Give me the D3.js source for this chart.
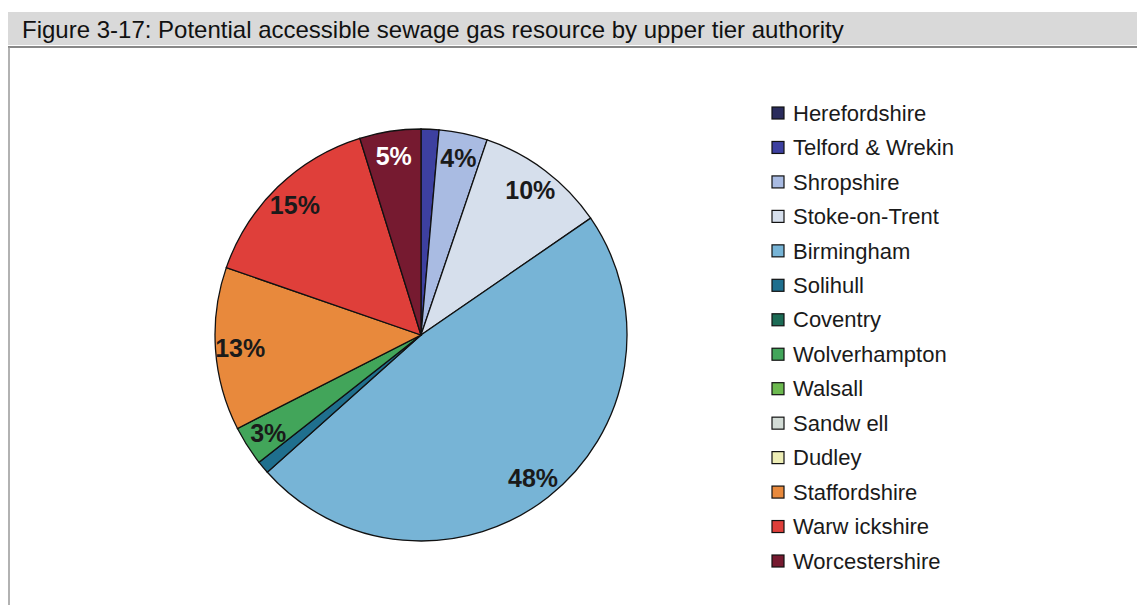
<!DOCTYPE html>
<html>
<head>
<meta charset="utf-8">
<script src="https://cdn.jsdelivr.net/npm/d3@7"></script>
<style>
  body { margin: 0; background: #fff; }
  svg { display: block; font-family: Arial, "Liberation Sans", sans-serif; }
</style>
</head>
<body>
<svg id="chart" width="1137" height="605"></svg>
<script>
// data (percent share of accessible sewage gas)
const authorities = ["Herefordshire", "Telford & Wrekin", "Shropshire", "Stoke-on-Trent",
  "Birmingham", "Solihull", "Coventry", "Wolverhampton", "Walsall", "Sandwell",
  "Dudley", "Staffordshire", "Warwickshire", "Worcestershire"];
const shares = [0, 1.4, 3.8, 10.2, 48.0, 1.0, 0, 3.1, 0, 0, 0, 12.8, 14.9, 4.8];
const legendLabels = ["Herefordshire", "Telford & Wrekin", "Shropshire", "Stoke-on-Trent",
  "Birmingham", "Solihull", "Coventry", "Wolverhampton", "Walsall", "Sandw ell",
  "Dudley", "Staffordshire", "Warw ickshire", "Worcestershire"];
const sliceColors = ["#2a2c5c", "#3d40a0", "#a9bbe2", "#d6dfec", "#77b4d6", "#1f6f8e",
  "#1c6b55", "#42a55a", "#6cb94f", "#d3dcd6", "#eeeeb6", "#e8893c", "#df3f3a", "#761a30"];

const svg = d3.select("#chart");
const W = 1137, H = 605;

// title band
svg.append("rect").attr("x", 8).attr("y", 12).attr("width", W - 8).attr("height", 33)
  .attr("fill", "#d9d9d9");
svg.append("text").attr("x", 22).attr("y", 38)
  .attr("font-size", 24).attr("fill", "#111")
  .text("Figure 3-17: Potential accessible sewage gas resource by upper tier authority");

// frame
svg.append("line").attr("x1", 8).attr("x2", W).attr("y1", 47).attr("y2", 47)
  .attr("stroke", "#888").attr("stroke-width", 2);
svg.append("line").attr("x1", 9).attr("x2", 9).attr("y1", 47).attr("y2", H)
  .attr("stroke", "#999").attr("stroke-width", 1.5);

// pie
const cx = 421, cy = 335, r = 206;
const color = d3.scaleOrdinal().domain(authorities).range(sliceColors);
const pie = d3.pie().sort(null).value(d => d.v);
const data = authorities.map((a, i) => ({ name: a, v: shares[i] }));
const arcs = pie(data);
const arc = d3.arc().innerRadius(0).outerRadius(r);
const labelArc = d3.arc().innerRadius(r * 0.88).outerRadius(r * 0.88);

const g = svg.append("g").attr("transform", `translate(${cx},${cy})`);
g.selectAll("path")
  .data(arcs.filter(d => d.data.v > 0))
  .join("path")
  .attr("d", arc)
  .attr("fill", d => color(d.data.name))
  .attr("stroke", "#111")
  .attr("stroke-width", 1.3);

g.selectAll("text")
  .data(arcs.filter(d => d.data.v >= 2))
  .join("text")
  .attr("transform", d => `translate(${labelArc.centroid(d)})`)
  .attr("text-anchor", "middle")
  .attr("dy", "0.36em")
  .attr("font-size", 25)
  .attr("font-weight", "bold")
  .attr("fill", d => d.data.name === "Worcestershire" ? "#fff" : "#1a1a1a")
  .text(d => Math.round(d.data.v) + "%");

// legend
const legendY = d3.scalePoint().domain(authorities).range([113, 561]);
const legend = svg.append("g");
const rows = legend.selectAll("g").data(authorities).join("g")
  .attr("transform", d => `translate(772,${legendY(d)})`);
rows.append("rect").attr("x", 0).attr("y", -6).attr("width", 12).attr("height", 12)
  .attr("fill", d => color(d)).attr("stroke", "#111").attr("stroke-width", 1.2);
rows.append("text").attr("x", 21).attr("y", 0).attr("dy", "0.35em")
  .attr("font-size", 22).attr("fill", "#1a1a1a")
  .text((d, i) => legendLabels[i]);
</script>
</body>
</html>
